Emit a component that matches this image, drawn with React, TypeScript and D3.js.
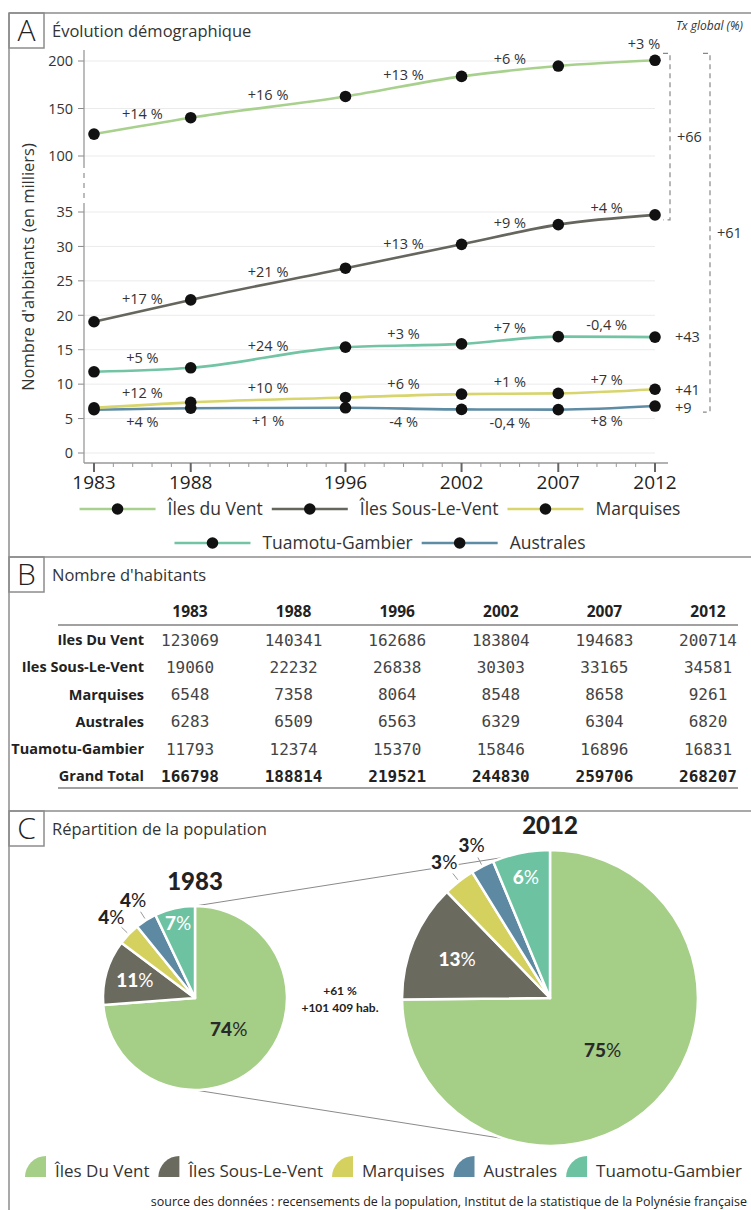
import React, { useEffect, useRef } from 'react';
import * as d3 from 'd3';

// census years and population per archipelago
const years = [1983, 1988, 1996, 2002, 2007, 2012];
const ilesDuVent = [123069, 140341, 162686, 183804, 194683, 200714];
const ilesSousLeVent = [19060, 22232, 26838, 30303, 33165, 34581];
const marquises = [6548, 7358, 8064, 8548, 8658, 9261];
const australes = [6283, 6509, 6563, 6329, 6304, 6820];
const tuamotuGambier = [11793, 12374, 15370, 15846, 16896, 16831];
const grandTotal = [166798, 188814, 219521, 244830, 259706, 268207];

// growth between censuses, as printed
const idvGrowth = ['+14 %', '+16 %', '+13 %', '+6 %', '+3 %'];
const islvGrowth = ['+17 %', '+21 %', '+13 %', '+9 %', '+4 %'];
const tuaGrowth = ['+5 %', '+24 %', '+3 %', '+7 %', '-0,4 %'];
const marqGrowth = ['+12 %', '+10 %', '+6 %', '+1 %', '+7 %'];
const ausGrowth = ['+4 %', '+1 %', '-4 %', '-0,4 %', '+8 %'];

// overall rate 1983-2012
const globalRates = { vents: '+66', total: '+61', tuamotu: '+43', marquises: '+41', australes: '+9' };

const tableRows = ['Iles Du Vent', 'Iles Sous-Le-Vent', 'Marquises', 'Australes', 'Tuamotu-Gambier', 'Grand Total'];
const pieLegend = ['Îles Du Vent', 'Îles Sous-Le-Vent', 'Marquises', 'Australes', 'Tuamotu-Gambier'];

const W = 751;
const H = 1210;
const FONT = '"Open Sans", Lato, sans-serif';
const PIEFONT = 'Lato, "Open Sans", sans-serif';
const TXT = '#333';

const C = {
  vent: '#a5ce86',
  sous: '#6b6a5f',
  marq: '#d4d15e',
  aus: '#5d89a2',
  tua: '#6cc2a1',
};

const App: React.FC = () => {
  const svgRef = useRef<SVGSVGElement>(null);

  useEffect(() => {
    if (!svgRef.current) return;
    const svg = d3.select(svgRef.current);
    svg.selectAll('*').remove();
    svg.append('rect').attr('width', W).attr('height', H).attr('fill', '#fff');

    const frame = svg.append('g').attr('stroke', '#8c8c8c').attr('stroke-width', 1.5).attr('fill', 'none');
    frame.append('line').attr('x1', 9).attr('x2', 9).attr('y1', 13).attr('y2', H);
    [13, 557, 811].forEach(y => frame.append('line').attr('x1', 9).attr('x2', W).attr('y1', y).attr('y2', y));

    const panelHead = (letter: string, title: string, top: number) => {
      frame.append('rect').attr('x', 9).attr('y', top).attr('width', 35).attr('height', 35);
      svg.append('text').attr('x', 26.5).attr('y', top + 17.5).attr('dy', '0.36em')
        .attr('text-anchor', 'middle').attr('font-family', FONT).attr('font-weight', 300)
        .attr('font-size', 30).attr('fill', '#222').text(letter);
      svg.append('text').attr('x', 52).attr('y', top + 24).attr('font-family', FONT)
        .attr('font-size', 16.5).attr('fill', TXT).text(title);
    };
    panelHead('A', 'Évolution démographique', 13);
    panelHead('B', "Nombre d'habitants", 557);
    panelHead('C', 'Répartition de la population', 811);

    // ---------- A : line chart with broken axis ----------
    const x = d3.scaleLinear().domain([1983, 2012]).range([94, 655]);
    const yTop = d3.scaleLinear().domain([100, 200]).range([156, 61]);
    const yBot = d3.scaleLinear().domain([0, 35]).range([453, 212]);
    const axisX = 84;
    const baseY = 463;

    const grid = svg.append('g').attr('stroke', '#ebebeb').attr('stroke-width', 1);
    const tickG = svg.append('g');
    const yTicks: [number, number][] = [
      ...yTop.ticks(2).map(t => [t, yTop(t)] as [number, number]),
      ...yBot.ticks(7).map(t => [t, yBot(t)] as [number, number]),
    ];
    yTicks.forEach(([t, y]) => {
      grid.append('line').attr('x1', axisX).attr('x2', x(2012)).attr('y1', y).attr('y2', y);
      tickG.append('line').attr('x1', axisX - 6).attr('x2', axisX).attr('y1', y).attr('y2', y)
        .attr('stroke', '#888');
      tickG.append('text').attr('x', axisX - 11).attr('y', y).attr('dy', '0.36em')
        .attr('text-anchor', 'end').attr('font-family', FONT).attr('font-size', 14.5)
        .attr('fill', TXT).text(t);
    });

    const ax = svg.append('g').attr('stroke', '#999').attr('stroke-width', 1.3);
    ax.append('line').attr('x1', axisX).attr('x2', axisX).attr('y1', 50).attr('y2', 163);
    ax.append('line').attr('x1', axisX).attr('x2', axisX).attr('y1', 163).attr('y2', 203)
      .attr('stroke-dasharray', '5,5');
    ax.append('line').attr('x1', axisX).attr('x2', axisX).attr('y1', 203).attr('y2', baseY);
    ax.append('line').attr('x1', axisX).attr('x2', 668).attr('y1', baseY).attr('y2', baseY);
    d3.range(1983, 2013).forEach(yr => {
      const major = years.includes(yr);
      ax.append('line').attr('x1', x(yr)).attr('x2', x(yr)).attr('y1', baseY)
        .attr('y2', baseY + (major ? 9 : 4)).attr('stroke', major ? '#666' : '#999')
        .attr('stroke-width', major ? 2 : 1);
    });
    years.forEach(yr => {
      svg.append('text').attr('x', x(yr)).attr('y', 489).attr('text-anchor', 'middle')
        .attr('font-family', FONT).attr('font-size', 19).attr('fill', '#222').text(yr);
    });

    svg.append('text').attr('transform', 'translate(28,267) rotate(-90)').attr('dy', '0.35em')
      .attr('text-anchor', 'middle').attr('font-family', FONT).attr('font-size', 16.5)
      .attr('fill', TXT).text("Nombre d'ahbitants (en milliers)");

    const series = [
      { name: 'Îles du Vent', values: ilesDuVent, color: '#a9d18e', growth: idvGrowth, top: true, below: false },
      { name: 'Îles Sous-Le-Vent', values: ilesSousLeVent, color: '#66665e', growth: islvGrowth, top: false, below: false },
      { name: 'Marquises', values: marquises, color: '#d7d56c', growth: marqGrowth, top: false, below: false },
      { name: 'Tuamotu-Gambier', values: tuamotuGambier, color: '#72c4a4', growth: tuaGrowth, top: false, below: false },
      { name: 'Australes', values: australes, color: '#5f8ca5', growth: ausGrowth, top: false, below: true },
    ];
    const yOf = (s: typeof series[number], v: number) => (s.top ? yTop(v / 1000) : yBot(v / 1000));

    const drawOrder = [series[0], series[1], series[3], series[4], series[2]];
    drawOrder.forEach(s => {
      const line = d3.line<number>()
        .x((_, i) => x(years[i]))
        .y(v => yOf(s, v))
        .curve(d3.curveMonotoneX);
      svg.append('path').attr('d', line(s.values)).attr('fill', 'none')
        .attr('stroke', s.color).attr('stroke-width', 2.6);
    });
    drawOrder.forEach(s => {
      svg.append('g').selectAll('circle').data(s.values).enter().append('circle')
        .attr('cx', (_, i) => x(years[i])).attr('cy', v => yOf(s, v)).attr('r', 5.8)
        .attr('fill', '#111');
    });
    series.forEach(s => {
      s.growth.forEach((g, i) => {
        let lx = (x(years[i]) + x(years[i + 1])) / 2;
        let ly = (yOf(s, s.values[i]) + yOf(s, s.values[i + 1])) / 2 + (s.below ? 13 : -12);
        if (s.top && i === s.growth.length - 1) {
          lx = x(years[i + 1]) - 11;
          ly = yOf(s, s.values[i + 1]) - 17;
        }
        svg.append('text').attr('x', lx).attr('y', ly).attr('dy', '0.36em')
          .attr('text-anchor', 'middle').attr('font-family', FONT).attr('font-size', 14.5)
          .attr('fill', TXT).text(g);
      });
    });

    // global rate brackets
    const last = years.length - 1;
    const br = svg.append('g').attr('stroke', '#888').attr('stroke-width', 1.2)
      .attr('stroke-dasharray', '5,4').attr('fill', 'none');
    const b1Top = yTop(ilesDuVent[last] / 1000) - 7;
    const b1Bot = yBot(ilesSousLeVent[last] / 1000) + 5;
    const b2Bot = yBot(australes[last] / 1000) + 6;
    br.append('path').attr('d', `M663,${b1Top}H670V${b1Bot}H663`);
    br.append('path').attr('d', `M703,${b1Top}H710V${b2Bot}H703`);
    const rateText = (t: string, tx: number, ty: number) =>
      svg.append('text').attr('x', tx).attr('y', ty).attr('dy', '0.36em')
        .attr('font-family', FONT).attr('font-size', 14.5).attr('fill', TXT).text(t);
    rateText(globalRates.vents, 677, (b1Top + b1Bot) / 2);
    rateText(globalRates.total, 717, (b1Top + b2Bot) / 2);
    rateText(globalRates.tuamotu, 675, yBot(tuamotuGambier[last] / 1000));
    rateText(globalRates.marquises, 675, yBot(marquises[last] / 1000) + 1);
    rateText(globalRates.australes, 675, yBot(australes[last] / 1000) + 2);
    svg.append('text').attr('x', 743).attr('y', 30).attr('text-anchor', 'end')
      .attr('font-family', FONT).attr('font-style', 'italic').attr('font-size', 12)
      .attr('fill', TXT).text('Tx global (%)');

    // line legend, two centred rows
    const legendRows = [
      [series[0], series[1], series[2]],
      [series[3], series[4]],
    ];
    legendRows.forEach((row, ri) => {
      const g = svg.append('g');
      const base = ri === 0 ? 509 : 543;
      let cx = 0;
      row.forEach((s, k) => {
        g.append('line').attr('x1', cx).attr('x2', cx + 76).attr('y1', base).attr('y2', base)
          .attr('stroke', s.color).attr('stroke-width', 2.6);
        g.append('circle').attr('cx', cx + 38).attr('cy', base).attr('r', 5.8).attr('fill', '#111');
        const t = g.append('text').attr('x', cx + 88).attr('y', base + 6)
          .attr('font-family', FONT).attr('font-size', 17.5).attr('fill', TXT).text(s.name);
        const w = (t.node() as SVGTextElement).getComputedTextLength();
        cx += 88 + w + (k < row.length - 1 ? 9 : 0);
      });
      g.attr('transform', `translate(${380 - cx / 2},0)`);
    });

    // ---------- B : table ----------
    const col = d3.scalePoint<number>().domain(years).range([190, 708]);
    const row = d3.scalePoint<string>().domain(tableRows).range([640, 776]);
    years.forEach(yr => {
      svg.append('text').attr('x', col(yr)!).attr('y', 617).attr('text-anchor', 'middle')
        .attr('font-family', FONT).attr('font-weight', 700).attr('font-size', 15.5)
        .attr('fill', '#222').text(yr);
    });
    [625, 788].forEach(y => svg.append('line').attr('x1', 58).attr('x2', 738).attr('y1', y).attr('y2', y)
      .attr('stroke', '#444').attr('stroke-width', 1.2));
    const tableData = [ilesDuVent, ilesSousLeVent, marquises, australes, tuamotuGambier, grandTotal];
    tableRows.forEach((name, ri) => {
      const ry = row(name)!;
      const isTotal = ri === tableRows.length - 1;
      svg.append('text').attr('x', 144).attr('y', ry).attr('dy', '0.36em').attr('text-anchor', 'end')
        .attr('font-family', FONT).attr('font-weight', 700).attr('font-size', 14.5)
        .attr('fill', '#222').text(name);
      tableData[ri].forEach((v, ci) => {
        svg.append('text').attr('x', col(years[ci])!).attr('y', ry).attr('dy', '0.36em')
          .attr('text-anchor', 'middle').attr('font-family', '"DejaVu Sans Mono", monospace')
          .attr('font-weight', isTotal ? 700 : 400).attr('font-size', 16)
          .attr('fill', isTotal ? '#222' : '#444').text(v);
      });
    });

    // ---------- C : pies, radius proportional to total ----------
    const rScale = d3.scaleLinear().domain([0, grandTotal[0]]).range([0, 92]);
    const pieColors = [C.vent, C.sous, C.marq, C.aus, C.tua];
    const pieYears = [0, last];
    const centers = [[195, 998], [550, 998]];
    const radii = pieYears.map(i => rScale(grandTotal[i]));

    const conn = svg.append('g').attr('stroke', '#8a8a8a').attr('stroke-width', 1);
    conn.append('line').attr('x1', centers[0][0]).attr('y1', centers[0][1] - radii[0])
      .attr('x2', centers[1][0]).attr('y2', centers[1][1] - radii[1]);
    conn.append('line').attr('x1', centers[0][0]).attr('y1', centers[0][1] + radii[0])
      .attr('x2', centers[1][0]).attr('y2', centers[1][1] + radii[1]);

    const pie = d3.pie<number>().sort(null).value(d => d);
    const pct = d3.format('.0%');
    pieYears.forEach((yi, pi) => {
      const vals = [ilesDuVent[yi], ilesSousLeVent[yi], marquises[yi], australes[yi], tuamotuGambier[yi]];
      const total = d3.sum(vals);
      const r = radii[pi];
      const [cx, cy] = centers[pi];
      const g = svg.append('g').attr('transform', `translate(${cx},${cy})`);
      const arcs = pie(vals);
      const arc = d3.arc<d3.PieArcDatum<number>>().innerRadius(0).outerRadius(r);
      g.selectAll('path').data(arcs).enter().append('path')
        .attr('d', arc).attr('fill', (_, i) => pieColors[i])
        .attr('stroke', '#fff').attr('stroke-width', 2.5).attr('stroke-linejoin', 'round');

      const inside = [0.5, 0.68, -1, -1, 0.83];
      arcs.forEach((a, i) => {
        const mid = (a.startAngle + a.endAngle) / 2;
        const sx = Math.sin(mid);
        const sy = -Math.cos(mid);
        const label = pct(a.value / total);
        let lr: number;
        let fill: string;
        if (inside[i] > 0) {
          lr = inside[i] * r;
          fill = i === 0 ? '#2a2a2a' : '#fff';
        } else {
          lr = r + 24;
          fill = '#222';
          g.append('line').attr('x1', sx * (r + 2)).attr('y1', sy * (r + 2))
            .attr('x2', sx * (r + 10)).attr('y2', sy * (r + 10))
            .attr('stroke', '#999').attr('stroke-width', 1);
        }
        const t = g.append('text').attr('x', sx * lr).attr('y', sy * lr).attr('dy', '0.36em')
          .attr('text-anchor', 'middle').attr('font-family', PIEFONT).attr('font-weight', 900)
          .attr('font-size', 19).attr('fill', fill);
        if (inside[i] < 0) {
          t.attr('stroke', '#fff').attr('stroke-width', 4).attr('paint-order', 'stroke');
        }
        t.append('tspan').text(label.replace('%', ''));
        t.append('tspan').attr('font-weight', 400).text('%');
      });

      svg.append('text').attr('x', cx).attr('y', cy - r - 25).attr('dy', '0.36em')
        .attr('text-anchor', 'middle').attr('font-family', PIEFONT).attr('font-weight', 900)
        .attr('font-size', 24).attr('fill', '#222').text(years[yi]);
    });

    const gTotal = grandTotal[last] - grandTotal[0];
    const gPct = gTotal / grandTotal[0];
    svg.append('text').attr('x', 340).attr('y', 995).attr('text-anchor', 'middle')
      .attr('font-family', PIEFONT).attr('font-weight', 700).attr('font-size', 12).attr('fill', '#222')
      .text(`+${Math.round(gPct * 100)} %`);
    svg.append('text').attr('x', 340).attr('y', 1012).attr('text-anchor', 'middle')
      .attr('font-family', PIEFONT).attr('font-weight', 700).attr('font-size', 12).attr('fill', '#222')
      .text(`+${d3.format(',')(gTotal).replace(/,/g, ' ')} hab.`);

    // pie legend, spread across the panel
    const lg = svg.append('g');
    const items = pieLegend.map((name, i) => {
      const t = lg.append('text').attr('y', 1177).attr('font-family', FONT).attr('font-size', 17)
        .attr('fill', TXT).text(name);
      return { t, w: (t.node() as SVGTextElement).getComputedTextLength(), color: pieColors[i] };
    });
    const iconW = 21;
    const used = d3.sum(items, d => iconW + 9 + d.w);
    const gap = (742 - 25 - used) / (items.length - 1);
    let lx = 25;
    items.forEach(d => {
      lg.append('path')
        .attr('d', `M${lx + iconW},1177H${lx}A${iconW},${iconW} 0 0 1 ${lx + iconW},${1177 - iconW}Z`)
        .attr('fill', d.color);
      d.t.attr('x', lx + iconW + 9);
      lx += iconW + 9 + d.w + gap;
    });

    svg.append('text').attr('x', 747).attr('y', 1206).attr('text-anchor', 'end')
      .attr('font-family', FONT).attr('font-size', 12.5).attr('fill', '#222')
      .text('source des données : recensements de la population, Institut de la statistique de la Polynésie française');
  }, []);

  return (
    <div style={{ position: 'absolute', left: 0, top: 0, width: W, height: H, background: '#fff' }}>
      <svg ref={svgRef} width={W} height={H} style={{ display: 'block' }} />
    </div>
  );
};

export default App;
